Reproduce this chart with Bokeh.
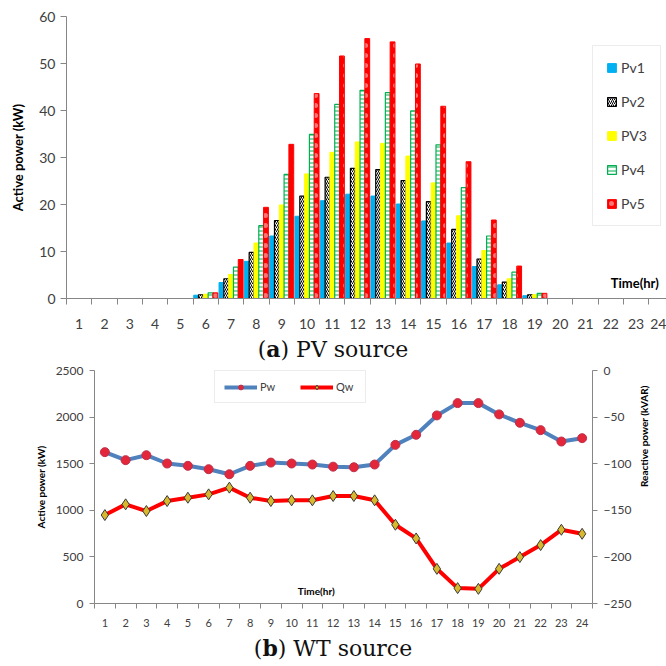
import math
from bokeh.plotting import figure
from bokeh.models import (ColumnDataSource, FixedTicker, Legend, LegendItem, Label,
                          LinearAxis, Range1d, Div)
from bokeh.layouts import column
from bokeh.embed import file_html
from bokeh.resources import INLINE
from bokeh.transform import dodge

# ---------------- data ----------------
hours = list(range(1, 25))

pv1 = [0, 0, 0, 0, 0, 0.7, 3.4, 7.9, 13.3, 17.5, 20.8, 22.2, 21.8, 20.1, 16.5, 11.8, 6.8, 2.9, 0.6, 0, 0, 0, 0, 0]
pv2 = [0, 0, 0, 0, 0, 0.8, 4.2, 9.8, 16.6, 21.8, 25.8, 27.7, 27.4, 25.1, 20.6, 14.7, 8.4, 3.5, 0.8, 0, 0, 0, 0, 0]
pv3 = [0, 0, 0, 0, 0, 0.9, 5.1, 11.8, 19.9, 26.5, 31.1, 33.3, 33.0, 30.3, 24.6, 17.6, 10.2, 4.2, 0.8, 0, 0, 0, 0, 0]
pv4 = [0, 0, 0, 0, 0, 1.2, 6.7, 15.5, 26.4, 34.9, 41.3, 44.3, 43.8, 39.9, 32.7, 23.6, 13.3, 5.6, 1.1, 0, 0, 0, 0, 0]
pv5 = [0, 0, 0, 0, 0, 1.2, 8.3, 19.4, 32.8, 43.6, 51.6, 55.3, 54.6, 49.9, 40.9, 29.1, 16.7, 6.9, 1.1, 0, 0, 0, 0, 0]
pv_names = ["Pv1", "Pv2", "PV3", "Pv4", "Pv5"]

pw = [1624, 1538, 1591, 1502, 1477, 1441, 1387, 1477, 1512, 1502, 1491, 1468,
      1462, 1491, 1702, 1810, 2018, 2150, 2150, 2029, 1939, 1860, 1738, 1774]
qw = [-155.1, -143.6, -150.8, -140.1, -136.5, -132.9, -125.7, -136.5, -140.1, -139.3, -139.3, -134.7,
      -134.7, -139.3, -165.5, -180.2, -212.8, -233.5, -234.3, -212.8, -200.2, -187.3, -170.9, -175.2]

FONT = "Lato"
AXIS_GREY = "#868686"
TXT = "#404040"

# ---------------- figure (a) ----------------
p1 = figure(width=666, height=333, output_backend="svg", toolbar_location=None,
            x_range=Range1d(0.5, 24.2), y_range=Range1d(0, 60),
            min_border_left=66, min_border_right=0, min_border_top=16, min_border_bottom=35)
if "frame_align" in p1.properties():
    p1.frame_align = False
p1.outline_line_color = None
p1.xgrid.grid_line_color = None
p1.ygrid.grid_line_color = None

series_styles = [
    dict(fill_color="#00B0F0", line_color="#00B0F0"),
    dict(fill_color="white", line_color="black", line_width=1.2,
         hatch_pattern="right_diagonal_line", hatch_color="black", hatch_scale=4, hatch_weight=1),
    dict(fill_color="#FFFF00", line_color="#FFFF00"),
    dict(fill_color="white", line_color="#00B050", line_width=1.2,
         hatch_pattern="horizontal_line", hatch_color="#00B050", hatch_scale=4, hatch_weight=1),
    dict(fill_color="#FF0000", line_color="#FF0000",
         hatch_pattern="dot", hatch_color="white", hatch_scale=10, hatch_weight=1, hatch_alpha=0.45),
]
offsets = [-0.38, -0.19, 0.0, 0.19, 0.38]
bar_w = 0.19

renderers = []
for vals, name, st, off in zip([pv1, pv2, pv3, pv4, pv5], pv_names, series_styles, offsets):
    hs = [h for h, v in zip(hours, vals) if v > 0]
    vs = [v for v in vals if v > 0]
    src = ColumnDataSource(dict(hour=hs, val=vs))
    r = p1.vbar(x=dodge("hour", off), top="val", width=bar_w, source=src, **st)
    renderers.append(r)

p1.xaxis.ticker = FixedTicker(ticks=hours, minor_ticks=[h + 0.5 for h in range(0, 25)])
p1.xaxis.major_tick_line_color = None
p1.xaxis.major_tick_out = 0
p1.xaxis.minor_tick_out = 6
p1.xaxis.minor_tick_in = 0
p1.xaxis.minor_tick_line_color = AXIS_GREY
p1.xaxis.axis_line_color = AXIS_GREY
p1.xaxis.major_label_standoff = 14
p1.xaxis.major_label_text_font = FONT
p1.xaxis.major_label_text_font_size = "14px"
p1.xaxis.major_label_text_color = TXT

p1.yaxis.ticker = FixedTicker(ticks=[0, 10, 20, 30, 40, 50, 60])
p1.yaxis.minor_tick_line_color = None
p1.yaxis.major_tick_out = 6
p1.yaxis.major_tick_in = 0
p1.yaxis.major_tick_line_color = AXIS_GREY
p1.yaxis.axis_line_color = AXIS_GREY
p1.yaxis.major_label_text_font = FONT
p1.yaxis.major_label_text_font_size = "14px"
p1.yaxis.major_label_text_color = TXT
p1.yaxis.major_label_standoff = 5
p1.yaxis.axis_label = "Active power (kW)"
p1.yaxis.axis_label_text_font = FONT
p1.yaxis.axis_label_text_font_style = "bold"
p1.yaxis.axis_label_text_font_size = "13px"
p1.yaxis.axis_label_text_color = "black"
p1.yaxis.axis_label_standoff = 10

p1.add_layout(Label(x=22.0, y=3.2, text="Time(hr)", text_font=FONT, text_font_style="bold",
                    text_font_size="13px", text_baseline="middle", text_color="black"))

leg1 = Legend(items=[LegendItem(label=n, renderers=[r]) for n, r in zip(pv_names, renderers)],
              location=(526, 72), orientation="vertical",
              glyph_width=11, glyph_height=11, label_height=14, spacing=17, padding=13,
              label_standoff=4, border_line_color="#D9D9D9", border_line_width=1,
              label_text_font=FONT, label_text_font_size="14px", label_text_color=TXT,
              background_fill_color="white")
p1.add_layout(leg1)

cap_style = ("font-family:'DejaVu Serif';font-size:22px;text-align:center;"
             "width:666px;color:#111;")
div1 = Div(text=f"<div style=\"{cap_style}line-height:32px;\">(<b>a</b>) PV source</div>",
           width=666, height=30, margin=0)

# ---------------- figure (b) ----------------
p2 = figure(width=666, height=269, output_backend="svg", toolbar_location=None,
            x_range=Range1d(0.5, 24.5), y_range=Range1d(0, 2500),
            min_border_left=94, min_border_right=74, min_border_top=7, min_border_bottom=29)
if "frame_align" in p2.properties():
    p2.frame_align = False
p2.extra_y_ranges = {"q": Range1d(-250, 0)}
p2.outline_line_color = None
p2.xgrid.grid_line_color = None
p2.ygrid.grid_line_color = None

src2 = ColumnDataSource(dict(hour=hours, pw=pw, qw=qw))
pw_line = p2.line("hour", "pw", source=src2, line_color="#4F81BD", line_width=4)
pw_mark = p2.scatter("hour", "pw", source=src2, marker="circle", size=9,
                     fill_color="#E3263A", line_color="#C0304A", line_width=1)
qw_line = p2.line("hour", "qw", source=src2, y_range_name="q", line_color="#FF0000", line_width=4)
qw_mark = p2.scatter("hour", "qw", source=src2, y_range_name="q", marker="diamond", size=11,
                     fill_color="#D8B92E", line_color="#3A3A3A", line_width=1)

p2.xaxis.ticker = FixedTicker(ticks=hours, minor_ticks=[h + 0.5 for h in range(0, 25)])
p2.xaxis.major_tick_line_color = None
p2.xaxis.major_tick_out = 0
p2.xaxis.minor_tick_out = 5
p2.xaxis.minor_tick_in = 0
p2.xaxis.minor_tick_line_color = AXIS_GREY
p2.xaxis.axis_line_color = AXIS_GREY
p2.xaxis.major_label_standoff = 10
p2.xaxis.major_label_text_font = FONT
p2.xaxis.major_label_text_font_size = "11px"
p2.xaxis.major_label_text_color = TXT

ax_left = p2.yaxis[0]
ax_left.ticker = FixedTicker(ticks=[0, 500, 1000, 1500, 2000, 2500])
ax_left.minor_tick_line_color = None
ax_left.major_tick_out = 5
ax_left.major_tick_in = 0
ax_left.major_tick_line_color = AXIS_GREY
ax_left.axis_line_color = AXIS_GREY
ax_left.major_label_text_font = FONT
ax_left.major_label_text_font_size = "12px"
ax_left.major_label_text_color = TXT
ax_left.major_label_standoff = 6
ax_left.axis_label = "Active power (kW)"
ax_left.axis_label_text_font = FONT
ax_left.axis_label_text_font_style = "bold"
ax_left.axis_label_text_font_size = "10px"
ax_left.axis_label_text_color = "black"
ax_left.axis_label_standoff = 6

ax_right = LinearAxis(y_range_name="q", ticker=FixedTicker(ticks=[-250, -200, -150, -100, -50, 0]))
ax_right.minor_tick_line_color = None
ax_right.major_tick_out = 5
ax_right.major_tick_in = 0
ax_right.major_tick_line_color = AXIS_GREY
ax_right.axis_line_color = AXIS_GREY
ax_right.major_label_text_font = FONT
ax_right.major_label_text_font_size = "12px"
ax_right.major_label_text_color = TXT
ax_right.major_label_standoff = 6
ax_right.axis_label_text_font = FONT
ax_right.axis_label_text_font_style = "bold"
ax_right.axis_label_text_font_size = "10px"
ax_right.axis_label_text_color = "black"
ax_right.axis_label_standoff = 10
ax_right.axis_label = "Reactive power (kVAR)"
if "axis_label_orientation" in ax_right.properties():
    ax_right.axis_label_orientation = math.pi / 2
p2.add_layout(ax_right, "right")

p2.add_layout(Label(x=10.3, y=129, text="Time(hr)", text_font=FONT, text_font_style="bold",
                    text_font_size="10px", text_baseline="middle", text_color="black"))

leg2 = Legend(items=[LegendItem(label="Pw", renderers=[pw_line, pw_mark]),
                     LegendItem(label="Qw", renderers=[qw_line, qw_mark])],
              location=(120, 200), orientation="horizontal",
              glyph_width=33, glyph_height=12, label_height=12, spacing=20, padding=9,
              label_standoff=3, border_line_color="#D9D9D9", border_line_width=1,
              label_text_font=FONT, label_text_font_size="11px", label_text_color=TXT,
              background_fill_color="white")
p2.add_layout(leg2)

div2 = Div(text=f"<div style=\"{cap_style}line-height:32px;\">(<b>b</b>) WT source</div>",
           width=666, height=35, margin=0)

layout = column(p1, div1, p2, div2, spacing=0)

open("out.html", "w").write(file_html(layout, INLINE))
